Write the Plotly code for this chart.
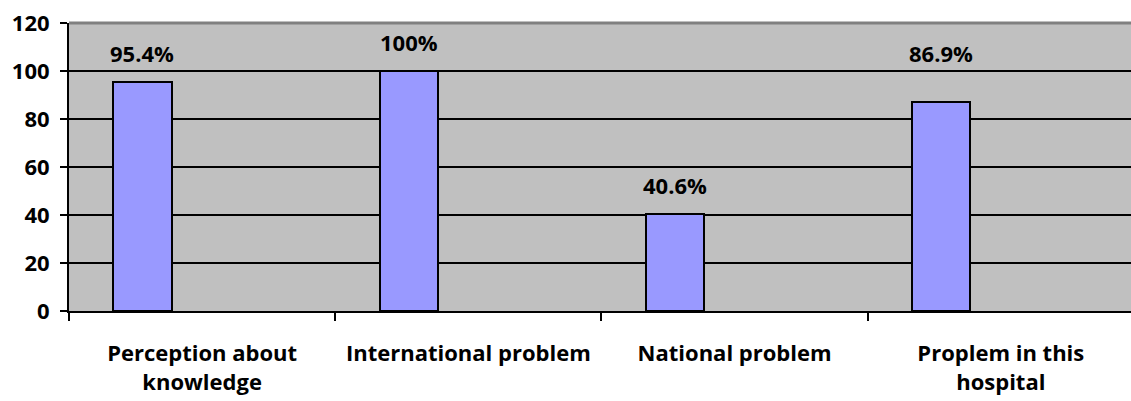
import plotly.graph_objects as go

categories = ["Perception about<br>knowledge", "International problem", "National problem", "Proplem in this<br>hospital"]
values = [95.4, 100, 40.6, 86.9]
value_labels = ["95.4%", "100%", "40.6%", "86.9%"]
y_ticks = [0, 20, 40, 60, 80, 100, 120]

# style constants
BAR_WIDTH = 0.218
BAR_OFFSET = -0.333
label_yshift = [29, 29, 29, 49]
FONT = "Open Sans"
FS = 22

fig = go.Figure()
fig.add_trace(go.Bar(
    x=categories, y=values,
    width=BAR_WIDTH, offset=BAR_OFFSET,
    marker=dict(color="#9999FF", line=dict(color="black", width=2)),
    hoverinfo="skip",
))

for i, (v, t) in enumerate(zip(values, value_labels)):
    fig.add_annotation(
        x=i + BAR_OFFSET + BAR_WIDTH / 2, y=v, xref="x", yref="y",
        text=t, showarrow=False, yanchor="middle", yshift=label_yshift[i],
        font=dict(family=FONT, size=FS, color="black", weight="bold"),
    )

fig.add_shape(type="line", xref="paper", yref="paper", x0=0, x1=1, y0=1, y1=1,
              line=dict(color="#808080", width=3), layer="above")

fig.update_layout(
    width=1131, height=401,
    margin=dict(l=69, r=0, t=23, b=90),
    paper_bgcolor="white", plot_bgcolor="#C0C0C0",
    showlegend=False,
    bargap=0,
    xaxis=dict(
        type="category", range=[-0.5, 3.489],
        showline=True, linecolor="black", linewidth=2,
        ticks="outside", tickson="boundaries", ticklen=8, tickwidth=2, tickcolor="black",
        showgrid=False,
        tickfont=dict(family=FONT, size=FS, color="black", weight="bold"),
        ticklabelstandoff=22,
    ),
    yaxis=dict(
        range=[0, 120], tickvals=y_ticks,
        showline=True, linecolor="black", linewidth=2,
        ticks="outside", ticklen=7, tickwidth=2, tickcolor="black",
        showgrid=True, gridcolor="black", gridwidth=2,
        zeroline=False,
        tickfont=dict(family=FONT, size=FS, color="black", weight="bold"),
        ticklabelstandoff=6,
    ),
)

fig.write_html("out.html")
